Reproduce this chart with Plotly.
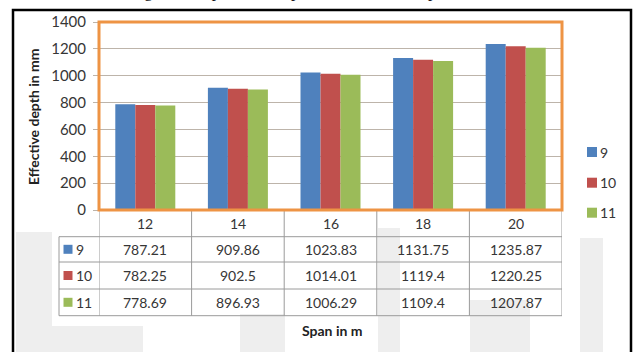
import plotly.graph_objects as go

# Span (m) categories and effective depth (mm) for each series
spans = ["12", "14", "16", "18", "20"]
series_names = ["9", "10", "11"]
depth_9 = [787.21, 909.86, 1023.83, 1131.75, 1235.87]
depth_10 = [782.25, 902.5, 1014.01, 1119.4, 1220.25]
depth_11 = [778.69, 896.93, 1006.29, 1109.4, 1207.87]
y_ticks = [0, 200, 400, 600, 800, 1000, 1200, 1400]

series_values = [depth_9, depth_10, depth_11]
colors = ["#4F81BD", "#C0504D", "#9BBB59"]

W, H = 636, 352
L, R, T, B = 99, 74, 22, 142
PW, PH = W - L - R, H - T - B


def fx(px):
    return (px - L) / PW


def fy(py):
    return 1 - (py - T) / PH


FONT = "Lato"
TXT = "#363636"
GRID = "#BDB4AA"
ORANGE = "#EE9444"
TBL = "#9A9A9A"
SHADE = "#EEEEEE"

fig = go.Figure()
for name, vals, col in zip(series_names, series_values, colors):
    fig.add_trace(go.Bar(x=spans, y=vals, name=name, marker=dict(color=col, line=dict(width=0))))

shapes = []
annotations = []

# faint background blocks of the page
for x0, y0, x1, y1 in [(16, 232, 52, 352), (16, 326, 143, 352), (240, 314, 285, 352),
                       (378, 228, 400, 352), (470, 300, 530, 352), (580, 238, 603, 352)]:
    shapes.append(dict(type="rect", xref="paper", yref="paper", x0=fx(x0), x1=fx(x1),
                       y0=fy(y1), y1=fy(y0), fillcolor=SHADE, line=dict(width=0), layer="below"))

# data table below the plot
row_lines = [236.7, 262.0, 289.0, 315.7]
for yy in row_lines:
    shapes.append(dict(type="line", xref="paper", yref="paper", x0=fx(59), x1=fx(562),
                       y0=fy(yy), y1=fy(yy), line=dict(color=TBL, width=1)))
shapes.append(dict(type="line", xref="paper", yref="paper", x0=fx(59), x1=fx(59),
                   y0=fy(236.7), y1=fy(315.7), line=dict(color=TBL, width=1)))
for i in range(len(spans) + 1):
    shapes.append(dict(type="line", xref="x", yref="paper", x0=i - 0.5, x1=i - 0.5,
                       y0=fy(210), y1=fy(315.7), line=dict(color=TBL, width=1)))

# header row: span values
for i, s in enumerate(spans):
    annotations.append(dict(x=i, y=fy(223.5), xref="x", yref="paper", text=s, showarrow=False,
                            font=dict(family=FONT, size=14, color=TXT), xanchor="center", yanchor="middle"))

row_centers = [249.3, 275.5, 302.3]
for name, vals, col, yc in zip(series_names, series_values, colors, row_centers):
    shapes.append(dict(type="rect", xref="paper", yref="paper", x0=fx(63.5), x1=fx(72.5),
                       y0=fy(yc + 4.5), y1=fy(yc - 4.5), fillcolor=col, line=dict(width=0)))
    annotations.append(dict(x=fx(74), y=fy(yc), xref="paper", yref="paper", text=name, showarrow=False,
                            font=dict(family=FONT, size=14, color=TXT), xanchor="left", yanchor="middle"))
    for i, v in enumerate(vals):
        annotations.append(dict(x=i, y=fy(yc), xref="x", yref="paper", text=f"{v:g}", showarrow=False,
                                font=dict(family=FONT, size=14, color=TXT), xanchor="center", yanchor="middle"))

# legend on the right
legend_centers = [152.0, 182.7, 212.7]
for name, col, yc in zip(series_names, colors, legend_centers):
    shapes.append(dict(type="rect", xref="paper", yref="paper", x0=fx(587), x1=fx(597),
                       y0=fy(yc + 5), y1=fy(yc - 5), fillcolor=col, line=dict(width=0)))
    annotations.append(dict(x=fx(598), y=fy(yc), xref="paper", yref="paper", text=name, showarrow=False,
                            font=dict(family=FONT, size=14, color=TXT), xanchor="left", yanchor="middle"))

# axis titles
annotations.append(dict(x=fx(332), y=fy(330), xref="paper", yref="paper", text="<b>Span in m</b>",
                        showarrow=False, font=dict(family=FONT, size=14, color="#222222"),
                        xanchor="center", yanchor="middle"))
annotations.append(dict(x=fx(33), y=fy(117), xref="paper", yref="paper", text="<b>Effective depth in mm</b>",
                        showarrow=False, textangle=-90, font=dict(family=FONT, size=14, color="#222222"),
                        xanchor="center", yanchor="middle"))

# caption above the frame
annotations.append(dict(x=fx(290), y=fy(3), xref="paper", yref="paper",
                        text="Fig. 8: Comparison of span and effective depth",
                        showarrow=False, font=dict(family="Liberation Serif", size=17, color="#111111"),
                        xanchor="center", yanchor="bottom"))

# orange plot frame
shapes.append(dict(type="rect", xref="paper", yref="paper", x0=0, x1=1, y0=0, y1=1,
                   line=dict(color=ORANGE, width=3), layer="above"))
# outer black frame
shapes.append(dict(type="rect", xref="paper", yref="paper", x0=fx(13), x1=fx(631),
                   y0=fy(370), y1=fy(10), line=dict(color="#000000", width=2.5)))

fig.update_layout(
    width=W, height=H, autosize=False,
    margin=dict(l=L, r=R, t=T, b=B),
    paper_bgcolor="white", plot_bgcolor="white",
    barmode="group", bargap=0.352, bargroupgap=0,
    showlegend=False,
    xaxis=dict(type="category", range=[-0.5, len(spans) - 0.5], showticklabels=False, showgrid=False,
               ticks="", zeroline=False, showline=False),
    yaxis=dict(range=[0, 1400], tickvals=y_ticks, showgrid=True, gridcolor=GRID, gridwidth=1,
               ticks="outside", ticklen=5, tickcolor=GRID, zeroline=False, showline=False,
               ticklabelstandoff=4,
               tickfont=dict(family=FONT, size=15, color=TXT)),
    shapes=shapes, annotations=annotations,
)

fig.write_html("out.html")
